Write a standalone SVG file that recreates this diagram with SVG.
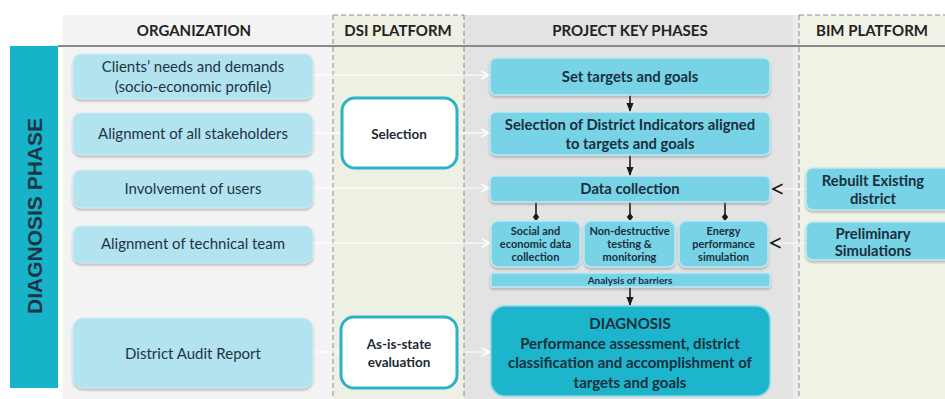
<svg xmlns="http://www.w3.org/2000/svg" width="945" height="399" viewBox="0 0 945 399">
<style>
.hdr{font-family:Lato,"Liberation Sans",sans-serif;font-weight:bold;font-size:15px;fill:#222222;text-anchor:middle}
.org rect{fill:#b3e3ef;stroke:#cdeef6;stroke-width:1}
.org text{font-family:Lato,"Liberation Sans",sans-serif;font-size:15px;fill:#1e3443;text-anchor:middle}
.dsi rect{fill:#ffffff;stroke:#2ab3c4;stroke-width:3}
.dsi text{font-family:Lato,"Liberation Sans",sans-serif;font-weight:bold;font-size:13.5px;fill:#1e2a33;text-anchor:middle}
.pk rect{fill:#78d3e6;stroke:#bfeaf4;stroke-width:1.5}
.pk text{font-family:Lato,"Liberation Sans",sans-serif;font-weight:bold;font-size:14.8px;fill:#1a2f3d;text-anchor:middle}
.sub text{font-size:11px}
.bar text{font-size:10px}
.diag rect{fill:#1db5cb;stroke:#7fd6e6;stroke-width:1.5}
.diag text{font-size:15px}
.wl{stroke:#ffffff;stroke-width:1.2;fill:none}
.dl{stroke:#1a1a1a;stroke-width:1.6;fill:none}
.dash{stroke:#8c8c8c;stroke-width:1;stroke-dasharray:5,3;fill:none}
</style>
<defs>
<filter id="sh" x="-10%" y="-20%" width="120%" height="150%">
<feDropShadow dx="0" dy="2" stdDeviation="1.2" flood-color="#6b6b6b" flood-opacity="0.4"/>
</filter>
<marker id="aw" viewBox="0 0 10 10" refX="9" refY="5" markerWidth="10" markerHeight="10" markerUnits="userSpaceOnUse" orient="auto">
<path d="M1,1 L9,5 L1,9" fill="none" stroke="#ffffff" stroke-width="1.4"/>
</marker>
<marker id="ad" viewBox="0 0 10 10" refX="9" refY="5" markerWidth="12" markerHeight="12" markerUnits="userSpaceOnUse" orient="auto">
<path d="M1,1 L9,5 L1,9" fill="none" stroke="#1a1a1a" stroke-width="1.4"/>
</marker>
<marker id="af" viewBox="0 0 10 10" refX="9" refY="5" markerWidth="9" markerHeight="9" markerUnits="userSpaceOnUse" orient="auto">
<path d="M0,1 L10,5 L0,9 Z" fill="#1a1a1a"/>
</marker>
<marker id="dm" viewBox="0 0 10 10" refX="5" refY="5" markerWidth="8" markerHeight="8" markerUnits="userSpaceOnUse" orient="auto">
<path d="M0,5 L5,1 L10,5 L5,9 Z" fill="#1a1a1a"/>
</marker>
</defs>

<g id="background">
<rect x="0" y="0" width="945" height="399" fill="#ffffff"/>
<rect x="63" y="15" width="270" height="384" fill="#f3f3f3"/>
<rect x="333" y="15" width="131" height="384" fill="#eef0e3"/>
<rect x="464" y="15" width="329" height="384" fill="#e3e3e3"/>
<rect x="793" y="15" width="6" height="384" fill="#ececec"/>
<rect x="799" y="15" width="146" height="384" fill="#eff2e5"/>
<line class="dash" x1="333" y1="15" x2="464" y2="15"/>
<line class="dash" x1="333" y1="15" x2="333" y2="399"/>
<line class="dash" x1="464" y1="15" x2="464" y2="399"/>
<line class="dash" x1="799" y1="15" x2="945" y2="15"/>
<line class="dash" x1="799" y1="15" x2="799" y2="399"/>
<line x1="58" y1="46" x2="945" y2="46" stroke="#8a8a8a" stroke-width="2"/>
</g>

<g id="headers">
<text class="hdr" x="194" y="36">ORGANIZATION</text>
<text class="hdr" x="398" y="36">DSI PLATFORM</text>
<text class="hdr" x="630" y="36">PROJECT KEY PHASES</text>
<text class="hdr" x="872" y="36">BIM PLATFORM</text>
</g>

<g id="phase-bar">
<rect x="10" y="46" width="48" height="342" fill="#17b3c8"/>
<text transform="translate(42,216) rotate(-90)" text-anchor="middle" font-family="Liberation Sans, Arial, sans-serif" font-weight="bold" font-size="21" fill="#1b3545">DIAGNOSIS PHASE</text>
</g>

<g id="connectors">
<line class="wl" x1="313" y1="75" x2="489" y2="75" marker-end="url(#aw)"/>
<line class="wl" x1="313" y1="133" x2="342" y2="133"/>
<line class="wl" x1="457" y1="133" x2="489" y2="133" marker-end="url(#aw)"/>
<line class="wl" x1="313" y1="188" x2="489" y2="188" marker-end="url(#aw)"/>
<line class="wl" x1="313" y1="243" x2="490" y2="243" marker-end="url(#aw)"/>
<line class="wl" x1="313" y1="352" x2="341" y2="352"/>
<line class="wl" x1="457" y1="352" x2="490" y2="352" marker-end="url(#aw)"/>
<line class="wl" x1="806" y1="189" x2="773" y2="189" marker-end="url(#ad)"/>
<line class="wl" x1="806" y1="243" x2="771" y2="243" marker-end="url(#ad)"/>
<line class="dl" x1="630" y1="95" x2="630" y2="111" marker-end="url(#af)"/>
<line class="dl" x1="630" y1="155" x2="630" y2="175" marker-end="url(#af)"/>
<line class="dl" x1="630" y1="287" x2="630" y2="305" marker-end="url(#af)"/>
<line class="dl" x1="536" y1="202" x2="536" y2="217" marker-end="url(#dm)"/>
<line class="dl" x1="630" y1="202" x2="630" y2="217" marker-end="url(#dm)"/>
<line class="dl" x1="725" y1="202" x2="725" y2="217" marker-end="url(#dm)"/>
</g>

<g id="org-clients" class="org"><rect x="73" y="54" width="240" height="45" rx="8" filter="url(#sh)"/><text x="193" y="72">Clients’ needs and  demands</text><text x="193" y="92">(socio-economic profile)</text></g>
<g id="org-stakeholders" class="org"><rect x="73" y="113" width="240" height="42" rx="8" filter="url(#sh)"/><text x="193" y="139">Alignment of all stakeholders</text></g>
<g id="org-users" class="org"><rect x="73" y="170" width="240" height="38" rx="8" filter="url(#sh)"/><text x="193" y="194">Involvement of users</text></g>
<g id="org-technical" class="org"><rect x="73" y="226" width="240" height="37" rx="8" filter="url(#sh)"/><text x="193" y="249">Alignment of technical team</text></g>
<g id="org-audit" class="org"><rect x="73" y="318" width="240" height="70" rx="10" filter="url(#sh)"/><text x="193" y="359">District Audit Report</text></g>

<g id="dsi-selection" class="dsi"><rect x="342" y="98" width="115" height="70" rx="13"/><text x="399" y="139">Selection</text></g>
<g id="dsi-asis" class="dsi"><rect x="341" y="317" width="116" height="71" rx="13"/><text x="399" y="349">As-is-state</text><text x="399" y="367">evaluation</text></g>

<g id="pk-targets" class="pk"><rect x="490" y="58" width="280" height="37" rx="6" filter="url(#sh)"/><text x="630" y="82">Set targets and goals</text></g>
<g id="pk-indicators" class="pk"><rect x="490" y="112" width="280" height="43" rx="6" filter="url(#sh)"/><text x="630" y="130">Selection of District Indicators aligned</text><text x="630" y="149">to targets and goals</text></g>
<g id="pk-data" class="pk"><rect x="490" y="176" width="280" height="26" rx="5" filter="url(#sh)"/><text x="630" y="194">Data collection</text></g>
<g id="pk-social" class="pk sub"><rect x="491" y="221" width="89" height="46" rx="7" filter="url(#sh)"/><text x="535.5" y="235">Social and</text><text x="535.5" y="248">economic data</text><text x="535.5" y="261">collection</text></g>
<g id="pk-ndt" class="pk sub"><rect x="584" y="221" width="91" height="46" rx="7" filter="url(#sh)"/><text x="629.5" y="235">Non-destructive</text><text x="629.5" y="248">testing &amp;</text><text x="629.5" y="261">monitoring</text></g>
<g id="pk-energy" class="pk sub"><rect x="679" y="221" width="89" height="46" rx="7" filter="url(#sh)"/><text x="723.5" y="235">Energy</text><text x="723.5" y="248">performance</text><text x="723.5" y="261">simulation</text></g>
<g id="pk-barriers" class="pk bar"><rect x="491" y="273" width="279" height="14" rx="2" filter="url(#sh)"/><text x="630" y="284">Analysis of barriers</text></g>
<g id="pk-diagnosis" class="pk diag"><rect x="491" y="306" width="279" height="90" rx="14"/><text x="630" y="329">DIAGNOSIS</text><text x="630" y="349">Performance assessment, district</text><text x="630" y="368">classification and accomplishment of</text><text x="630" y="388">targets and goals</text></g>

<g id="bim-rebuilt" class="pk"><rect x="806" y="168" width="150" height="42" rx="7" filter="url(#sh)"/><text x="873" y="186">Rebuilt Existing</text><text x="873" y="204">district</text></g>
<g id="bim-prelim" class="pk"><rect x="806" y="222" width="150" height="38" rx="7" filter="url(#sh)"/><text x="873" y="239">Preliminary</text><text x="873" y="256">Simulations</text></g>
</svg>
